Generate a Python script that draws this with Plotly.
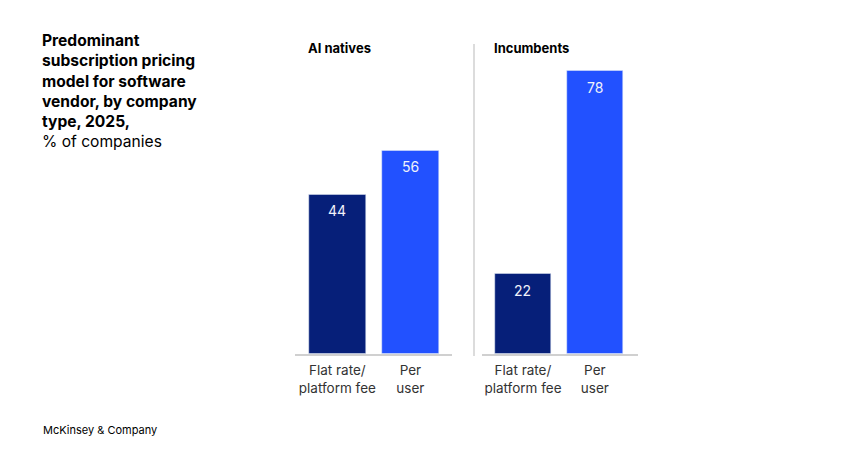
import plotly.graph_objects as go

categories = ["Flat rate/<br>platform fee", "Per<br>user"]
ai_natives = [44, 56]
incumbents = [22, 78]
panel_titles = ["AI natives", "Incumbents"]
bar_colors = ["#061F79", "#2251FF"]

W, H = 865, 455
OFF = 8  # page body margin
FONT = "Inter, Roboto, Arial, sans-serif"

def px(x):
    return (x - OFF) / W

def py(y):
    return 1 - (y - OFF) / H

fig = go.Figure()
xs = [0, 1]
fig.add_trace(go.Bar(x=xs, y=ai_natives, marker_color=bar_colors, width=0.78,
                     xaxis="x", yaxis="y", hoverinfo="skip", showlegend=False))
fig.add_trace(go.Bar(x=xs, y=incumbents, marker_color=bar_colors, width=0.78,
                     xaxis="x2", yaxis="y2", hoverinfo="skip", showlegend=False))

ymax = 80
y_bottom = 354
y_top = 354 - ymax * (354 - 71) / 78

axis_common = dict(
    tickmode="array", tickvals=xs, ticktext=categories,
    showline=True, linecolor="#D0D0D0", linewidth=1.5,
    ticks="", showgrid=False, zeroline=False, fixedrange=True,
    ticklabelstandoff=3,
    tickfont=dict(family=FONT, size=13.5, color="#333333"),
)
fig.update_layout(
    width=W, height=H,
    margin=dict(l=0, r=0, t=0, b=0),
    paper_bgcolor="white", plot_bgcolor="white",
    xaxis=dict(domain=[px(295), px(452)], range=[-0.58, 1.57], anchor="y", **axis_common),
    xaxis2=dict(domain=[px(482), px(638)], range=[-0.57, 1.6], anchor="y2", **axis_common),
    yaxis=dict(domain=[py(y_bottom), py(y_top)], range=[0, ymax], visible=False, anchor="x"),
    yaxis2=dict(domain=[py(y_bottom), py(y_top)], range=[0, ymax], visible=False, anchor="x2"),
    bargap=0,
)

annotations = []
for xr, yr, vals in [("x", "y", ai_natives), ("x2", "y2", incumbents)]:
    for xi, v in zip(xs, vals):
        annotations.append(dict(x=xi, y=v, xref=xr, yref=yr, text=str(v), showarrow=False,
                                yanchor="middle", yshift=-16,
                                font=dict(family=FONT, size=14, color="#F0F2FA")))

annotations.append(dict(x=px(306), y=py(38), xref="paper", yref="paper", xanchor="left", yanchor="top",
                        text="<b>" + panel_titles[0] + "</b>", showarrow=False,
                        font=dict(family=FONT, size=13, color="#000000")))
annotations.append(dict(x=px(492), y=py(38), xref="paper", yref="paper", xanchor="left", yanchor="top",
                        text="<b>" + panel_titles[1] + "</b>", showarrow=False,
                        font=dict(family=FONT, size=13, color="#000000")))

title = ("<b>Predominant<br>subscription pricing<br>model for software<br>vendor, by company<br>"
         "type, 2025,</b><br>% of companies")
annotations.append(dict(x=px(40), y=py(29), xref="paper", yref="paper", xanchor="left", yanchor="top",
                        text=title, align="left", showarrow=False,
                        font=dict(family=FONT, size=15.6, color="#000000")))
annotations.append(dict(x=px(41), y=py(430), xref="paper", yref="paper", xanchor="left", yanchor="middle",
                        text="McKinsey & Company", showarrow=False,
                        font=dict(family=FONT, size=11, color="#000000")))
fig.update_layout(annotations=annotations)

fig.add_shape(type="line", xref="paper", yref="paper", x0=px(474), x1=px(474), y0=py(44), y1=py(356),
              line=dict(color="#D0D0D0", width=1.5))

fig.write_html("out.html")
